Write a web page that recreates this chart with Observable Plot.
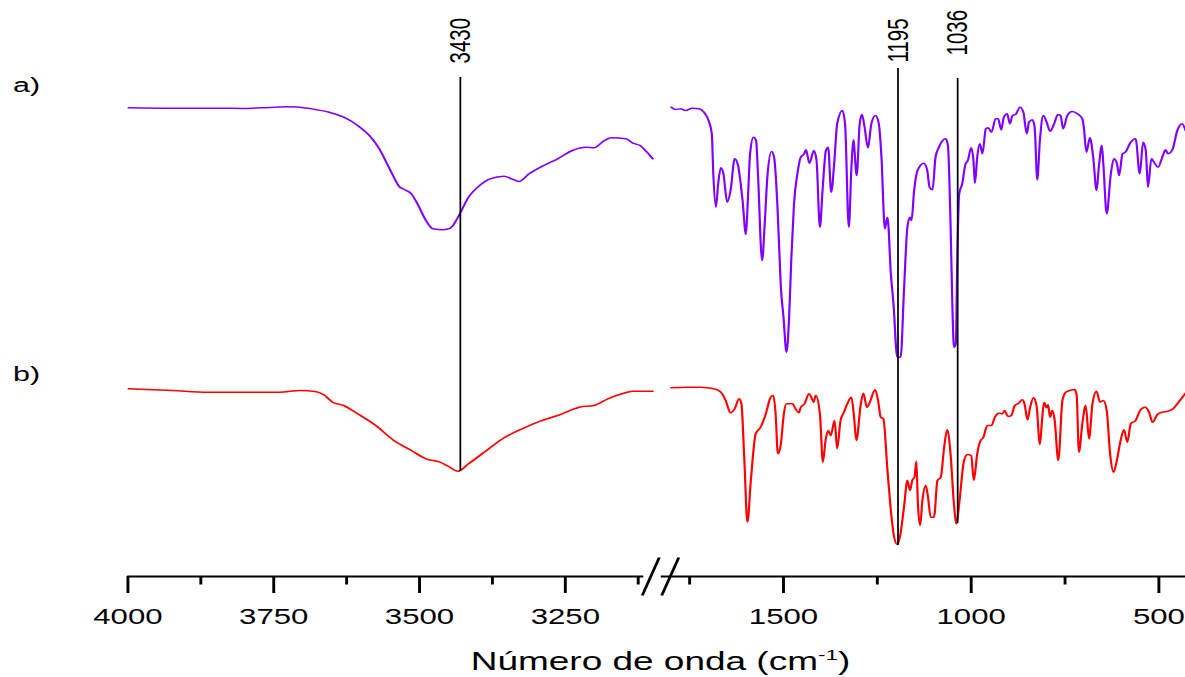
<!DOCTYPE html>
<html><head><meta charset="utf-8">
<script src="https://cdn.jsdelivr.net/npm/d3@7"></script>
<script src="https://cdn.jsdelivr.net/npm/@observablehq/plot@0.6"></script>
<style>html,body{margin:0;padding:0;background:#fff;overflow:hidden}</style>
</head><body><div id="chart"></div>
<script>
// Spectrum a) — high wavenumber segment [wavenumber cm-1, transmittance (a.u.)]
const spectrumA_high = [[3999,468.7],[3924,468.3],[3845,468.3],[3800,468.0],[3771,468.7],[3728,469.7],[3692,468.3],[3679,467],[3655,464.3],[3630,459.3],[3606,451],[3581,437.7],[3569,427.7],[3557,414.3],[3544,399.3],[3535,390],[3526,387],[3514,382.7],[3502,371],[3489,356],[3477,347.7],[3459,346.7],[3447,348.3],[3434,359.3],[3416,379.3],[3397,391],[3379,397.7],[3355,400.3],[3342,397.7],[3330,395],[3312,402.7],[3287,411],[3263,417.7],[3238,426],[3214,429.3],[3201,428.7],[3183,436],[3171,438.7],[3146,437.7],[3134,433.3],[3122,431],[3110,424.3],[3100,417.7]];
// Spectrum a) — low wavenumber segment
const spectrumA_low = [[1799,469.3],[1787,467],[1774,467.7],[1761,466],[1743,468.3],[1725,467.7],[1712,464.3],[1698,454.3],[1691,442.7],[1687,402.7],[1680,369.3],[1674,392.7],[1667,408.7],[1660,402.7],[1650,374.3],[1641,386],[1630,417.7],[1621,411],[1614,392.7],[1609,376],[1600,342],[1595,376],[1589,422.7],[1580,439.3],[1573,436],[1568,402.7],[1557,316],[1550,352.7],[1543,399.3],[1532,425],[1525,419.3],[1516,369.3],[1507,289.3],[1500,259.3],[1492,224.3],[1485,259.3],[1479,319.3],[1472,372.7],[1463,402.7],[1454,419.3],[1445,422.7],[1440,426.7],[1431,413.3],[1419,426],[1412,416],[1403,349.3],[1396,386],[1387,426],[1381,429.3],[1373,384.3],[1365,412.7],[1357,452.7],[1343,466],[1336,452.7],[1326,349.3],[1319,409.3],[1314,436.7],[1305,401],[1297,452.7],[1291,462],[1284,449.3],[1275,428.7],[1266,452.7],[1255,461],[1246,452.7],[1239,419.3],[1230,347.7],[1223,359.3],[1214,302.7],[1207,272.7],[1197,219.3],[1188,219.3],[1179,286],[1170,349.3],[1163,359.3],[1159,356],[1152,386],[1143,406],[1126,413.3],[1117,406],[1111,389.3],[1103,386.7],[1095,419.3],[1086,429.3],[1068,437.7],[1062,431],[1055,352.7],[1050,269.3],[1046,229.3],[1041,232.7],[1037,319.3],[1032,382.7],[1024,392.7],[1015,412.7],[1009,416],[1000,428.7],[994,416],[990,393.3],[984,419.3],[977,432.7],[970,422.7],[961,447.7],[955,448.7],[946,444.3],[935,457.7],[928,457.7],[920,446.7],[913,459.3],[904,462.7],[897,452.7],[890,461],[882,462],[870,469.3],[861,464.3],[852,442.7],[846,454.3],[837,456.7],[831,449.3],[824,396.7],[817,436],[808,461],[799,454.3],[790,445.3],[779,452.7],[769,462],[762,461],[755,447.7],[744,461],[731,465],[717,462.7],[704,457.7],[700,449.3],[693,424.3],[684,438.7],[675,419.3],[666,386],[660,409.3],[652,431],[648,412.7],[639,362.7],[628,402.7],[620,417.7],[612,413.3],[606,401],[597,422.7],[589,424.3],[575,434.3],[562,437.7],[551,402.7],[542,434.3],[535,426],[529,389.3],[520,417.7],[513,414.3],[502,409.3],[491,419.3],[482,426.7],[476,422.7],[464,426.7],[451,446],[438,452.7],[429,446]];
// Spectrum b) — high wavenumber segment
const spectrumB_high = [[3999,187.7],[3924,186],[3863,184.3],[3802,184.3],[3740,184.3],[3704,186],[3679,185],[3664,181.7],[3649,174.3],[3630,171],[3606,162.7],[3575,151],[3544,136],[3514,126],[3489,117.7],[3465,114.3],[3450,110],[3434,105.3],[3416,112.7],[3385,126],[3355,138.7],[3324,147.7],[3293,155.3],[3263,161],[3226,169.3],[3201,171],[3177,177.7],[3153,182.7],[3134,185.3],[3100,185.3]];
// Spectrum b) — low wavenumber segment
const spectrumB_low = [[1799,188.7],[1756,189.3],[1721,189.3],[1685,187.7],[1667,184.3],[1654,176],[1641,163.7],[1630,167.7],[1618,177.7],[1612,172.7],[1605,122.7],[1596,54.3],[1587,96],[1574,142.7],[1561,149.3],[1547,162.7],[1534,179.3],[1527,181],[1521,162.7],[1515,122.7],[1507,132.7],[1499,162.7],[1492,172.7],[1476,172.7],[1468,167.7],[1459,163.7],[1454,169.3],[1444,172.7],[1432,182.7],[1426,179.3],[1420,174.3],[1414,181],[1403,162.7],[1395,114.3],[1388,136],[1381,146],[1374,141],[1364,156],[1357,127.7],[1348,156],[1339,164.3],[1330,172.7],[1319,179.3],[1312,159.3],[1306,136],[1294,172.7],[1287,183.3],[1278,169.3],[1270,174.3],[1256,186.7],[1248,176],[1241,159.3],[1234,157.7],[1223,106],[1214,66],[1206,41],[1197,32],[1190,39.3],[1179,69.3],[1170,96],[1163,86],[1157,96],[1151,99.3],[1146,115.3],[1142,72.7],[1136,51],[1130,76],[1121,91],[1115,79.3],[1108,59.3],[1099,59.3],[1090,96],[1081,99.3],[1072,129.3],[1064,146.7],[1055,122.7],[1046,72.7],[1039,52.7],[1032,72.7],[1019,116],[1010,122],[1000,121],[993,96],[984,122.7],[975,136],[968,138.7],[957,151],[946,151],[937,159.3],[926,163.3],[917,162.7],[911,166],[902,160],[893,161],[884,171],[873,173.3],[864,176.7],[858,172.7],[850,156.7],[843,169.3],[834,178.7],[826,171],[817,132],[812,152.7],[806,174.3],[799,168.7],[795,171.7],[790,159.3],[784,166],[778,157.7],[768,116],[757,176],[748,184.3],[737,186],[724,187],[719,181],[713,124.3],[704,152.7],[695,171],[686,137.7],[677,172.7],[666,185.3],[657,174.3],[648,176],[639,166],[630,122.7],[621,104.3],[612,116],[602,136],[593,146.7],[584,134.3],[575,152.7],[562,156],[550,166],[537,169.3],[526,164.3],[517,154.3],[504,162],[491,164.3],[476,165.3],[462,167.7],[451,172.7],[429,183.3]];

const majorTicks = [4000, 3750, 3500, 3250, 1500, 1000, 500];
const minorTicks = [3875, 3625, 3375, 3125, 1750, 1250, 750];
const axisSegments = [[4000, 3115], [1825, 428]];
const peakWavenumbers = [3430, 1195, 1036];
const peakLineBottom = [105, 31, 53];
const peakLineTop = [499, 508, 498];
const peakLabelBase = [513, 514, 521];
const seriesNames = ["a)", "b)"];
const seriesLabelY = [485, 196];
const breakCenters = [896.5, 929.9]; // in broken-axis units

// Broken axis: left part 4000→3100 at one scale, right part 1800→430 compressed
const LOW_REF = 1500, LOW_OFFSET = 1124.1, LOW_RATIO = 0.6437;
const u = w => w >= 2500 ? 4000 - w : LOW_OFFSET + (LOW_REF - w) * LOW_RATIO;

const W0 = 817, H = 677, WIDTH = 1185, S = WIDTH / W0;
const PURPLE = "#8000ff", RED = "#ff0000";

const lineOpts = (color) => ({x: d => u(d[0]), y: d => d[1], stroke: color, strokeWidth: 1.5, curve: "monotone-x"});

const plot = Plot.plot({
  width: W0, height: H,
  x: {type: "linear", domain: [0, 1767.8], range: [87.7, 798.5], axis: null},
  y: {type: "linear", domain: [0, 576], range: [576, 0], axis: null},
  style: {fontFamily: "'Liberation Sans', Arial, sans-serif", background: "white", color: "black"},
  marks: [
    Plot.line(spectrumA_high, lineOpts(PURPLE)),
    Plot.line(spectrumA_low, lineOpts(PURPLE)),
    Plot.line(spectrumB_high, lineOpts(RED)),
    Plot.line(spectrumB_low, lineOpts(RED)),
    Plot.ruleX(peakWavenumbers, {x: u, y1: (d, i) => peakLineBottom[i], y2: (d, i) => peakLineTop[i], stroke: "black", strokeWidth: 1.2}),
    Plot.text(peakWavenumbers, {x: u, y: (d, i) => peakLabelBase[i], text: d => String(d), rotate: -90, textAnchor: "start", fontSize: 20.5, fill: "black"}),
    Plot.text(seriesNames, {x: () => u(4197), y: (d, i) => seriesLabelY[i], text: d => d, textAnchor: "start", lineAnchor: "bottom", fontSize: 21, fill: "black"}),
    Plot.ruleY(axisSegments, {y: 0, x1: d => u(d[0]), x2: d => u(d[1]), stroke: "black", strokeWidth: 2}),
    Plot.ruleX(majorTicks, {x: u, y1: 0, y2: -17, stroke: "black", strokeWidth: 2}),
    Plot.ruleX(minorTicks, {x: u, y1: 0, y2: -8.5, stroke: "black", strokeWidth: 2}),
    Plot.text(majorTicks, {x: u, y: -32, text: d => String(d), lineAnchor: "top", fontSize: 21.5, fill: "black"}),
    Plot.link(breakCenters, {x1: d => d - 14.6, y1: -19, x2: d => d + 14.6, y2: 19, stroke: "black", strokeWidth: 2})
  ]
});

// x-axis title with superscript
const svg = d3.select(plot);
const t = svg.append("text")
  .attr("x", 660.5 / S).attr("y", 670)
  .attr("text-anchor", "middle").attr("font-size", 25.5).attr("fill", "black")
  .attr("font-family", "'Liberation Sans', Arial, sans-serif");
t.append("tspan").text("Número de onda (cm");
t.append("tspan").attr("font-size", 15.5).attr("dy", -9.5).text("-1");
t.append("tspan").attr("font-size", 25.5).attr("dy", 9.5).text(")");

// stretch horizontally like the original figure
plot.setAttribute("width", WIDTH);
plot.setAttribute("height", H);
plot.setAttribute("preserveAspectRatio", "none");
plot.style.width = WIDTH + "px";
plot.style.height = H + "px";
plot.style.maxWidth = "none";
plot.style.display = "block";
document.getElementById("chart").appendChild(plot);
</script>
</body></html>
